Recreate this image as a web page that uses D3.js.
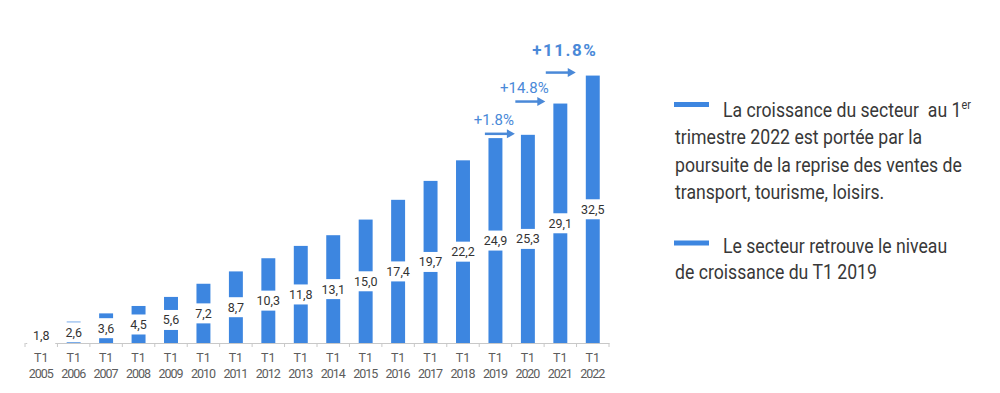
<!DOCTYPE html>
<html>
<head>
<meta charset="utf-8">
<script src="https://cdn.jsdelivr.net/npm/d3@7"></script>
<style>
  body { margin: 0; background: #fff; }
  svg { display: block; font-family: Roboto, "Noto Sans", sans-serif; }
</style>
</head>
<body>
<svg width="1000" height="393"></svg>
<script>
// data
let years = ["2005", "2006", "2007", "2008", "2009", "2010", "2011", "2012", "2013",
    "2014", "2015", "2016", "2017", "2018", "2019", "2020", "2021", "2022"];
let quarter = "T1";
let values = [1.8, 2.6, 3.6, 4.5, 5.6, 7.2, 8.7, 10.3, 11.8, 13.1, 15.0, 17.4, 19.7, 22.2, 24.9, 25.3, 29.1, 32.5];
let growthFrom = ["2019", "2020", "2021"];
let growthTo = ["2020", "2021", "2022"];
let growthLabels = ["+1.8%", "+14.8%", "+11.8%"];
let noteFirst = ["La croissance du secteur  au 1", "trimestre 2022 est portée par la",
    "poursuite de la reprise des ventes de", "transport, tourisme, loisirs."];
let noteSecond = ["Le secteur retrouve le niveau", "de croissance du T1 2019"];

let svg = d3.select("svg");
let blue = "#3d86e0";
let baseY = 343;

let x = d3.scaleBand()
    .domain(years)
    .range([25, 609])
    .paddingInner(0.57)
    .paddingOuter(0.285);

let y = d3.scaleLinear()
    .domain([0, 35])
    .range([baseY, 55]);

let fr = d3.formatLocale({decimal: ",", thousands: " ", grouping: [3], currency: ["", " €"]});
let fmt = fr.format(".1f");

let rows = years.map(function (d, i) { return {year: d, value: values[i]}; });

// bars
svg.append("g").selectAll("rect")
    .data(rows)
    .enter()
    .append("rect")
    .attr("x", d => x(d.year))
    .attr("y", d => y(d.value))
    .attr("width", x.bandwidth())
    .attr("height", d => baseY - y(d.value))
    .attr("fill", blue);

// axis
let xAxis = svg.append("g")
    .attr("transform", `translate(0,${baseY})`)
    .call(d3.axisBottom(x).tickSize(0).tickSizeOuter(0));
xAxis.select(".domain").attr("stroke", "#c8c8c8");
xAxis.selectAll(".tick text").each(function (d) {
    let t = d3.select(this);
    t.text(null).attr("dy", null).attr("y", null)
        .attr("font-size", 12.5).attr("fill", "#5c5c5c").attr("font-family", "Roboto, sans-serif");
    t.append("tspan").attr("x", 0).attr("y", 18.5).text(quarter);
    t.append("tspan").attr("x", 0).attr("y", 34.5).attr("textLength", 25).text(d);
});
let step = x.step();
xAxis.append("g").selectAll("line")
    .data(d3.range(years.length + 1))
    .enter()
    .append("line")
    .attr("x1", i => x.range()[0] + i * step)
    .attr("x2", i => x.range()[0] + i * step)
    .attr("y1", 0)
    .attr("y2", 4)
    .attr("stroke", "#c8c8c8");

// value labels on white boxes
let lab = svg.append("g").selectAll("g")
    .data(rows)
    .enter()
    .append("g")
    .attr("transform", d => `translate(${x(d.year) + x.bandwidth() / 2},${(baseY + y(d.value)) / 2})`);
lab.append("rect")
    .attr("x", -14)
    .attr("y", -10)
    .attr("width", 28)
    .attr("height", 20)
    .attr("fill", "#fff");
lab.append("text")
    .attr("text-anchor", "middle")
    .attr("dy", "0.36em")
    .attr("font-size", 12.5)
    .attr("fill", "#333")
    .text(d => fmt(d.value));

// growth arrows
let valueOf = {};
rows.forEach(d => { valueOf[d.year] = d.value; });
growthLabels.forEach(function (label, i) {
    let xEnd = x(growthTo[i]) + x.bandwidth() / 2 - 13 - i * 2;
    let xStart = xEnd - 30;
    let ay = y(valueOf[growthTo[i]]) - 1 - i;
    let big = i === growthLabels.length - 1;
    let ann = svg.append("g");
    ann.append("line")
        .attr("x1", xStart).attr("x2", xEnd - 5)
        .attr("y1", ay).attr("y2", ay)
        .attr("stroke", "#4a89d8")
        .attr("stroke-width", 2.5);
    ann.append("path")
        .attr("d", `M${xEnd},${ay}L${xEnd - 8},${ay - 4.5}L${xEnd - 8},${ay + 4.5}Z`)
        .attr("fill", "#4a89d8");
    ann.append("text")
        .attr("x", (xStart + xEnd) / 2 + (big ? 4 : -6))
        .attr("y", ay - (big ? 17 : 9))
        .attr("text-anchor", "middle")
        .attr("font-size", big ? 17 : 15)
        .attr("font-weight", big ? "bold" : "normal")
        .attr("letter-spacing", big ? 1.5 : 0)
        .attr("fill", "#4a89d8")
        .text(label);
});

// notes on the right
let noteX = 675;
let notes = svg.append("g");
let lines = [];
noteFirst.forEach((t, i) => lines.push({text: t, y: 117 + i * 27.3, indent: i === 0, sup: i === 0 ? "er" : null}));
noteSecond.forEach((t, i) => lines.push({text: t, y: 253 + i * 26.5, indent: i === 0, sup: null}));

[lines[0].y - 15, lines[4].y - 12.5].forEach(function (yy) {
    notes.append("rect")
        .attr("x", noteX - 1)
        .attr("y", yy)
        .attr("width", 35)
        .attr("height", 5)
        .attr("fill", blue);
});

let txt = notes.append("g");
let tl = txt.selectAll("text")
    .data(lines)
    .enter()
    .append("text")
    .attr("y", d => d.y)
    .attr("font-size", 19.5)
    .attr("fill", "#383838")
    .style("white-space", "pre")
    .text(d => d.text);
tl.filter(d => d.sup)
    .append("tspan")
    .attr("dy", -8)
    .attr("font-size", 12)
    .text(d => d.sup);

// squeeze the text to the condensed look of the reference
let widest = tl.filter((d, i) => i === 2).node().getComputedTextLength();
let sx = 287 / widest;
txt.attr("transform", `translate(${noteX},0) scale(${sx},1)`);
tl.attr("x", d => d.indent ? 48 / sx : 0);
</script>
</body>
</html>
